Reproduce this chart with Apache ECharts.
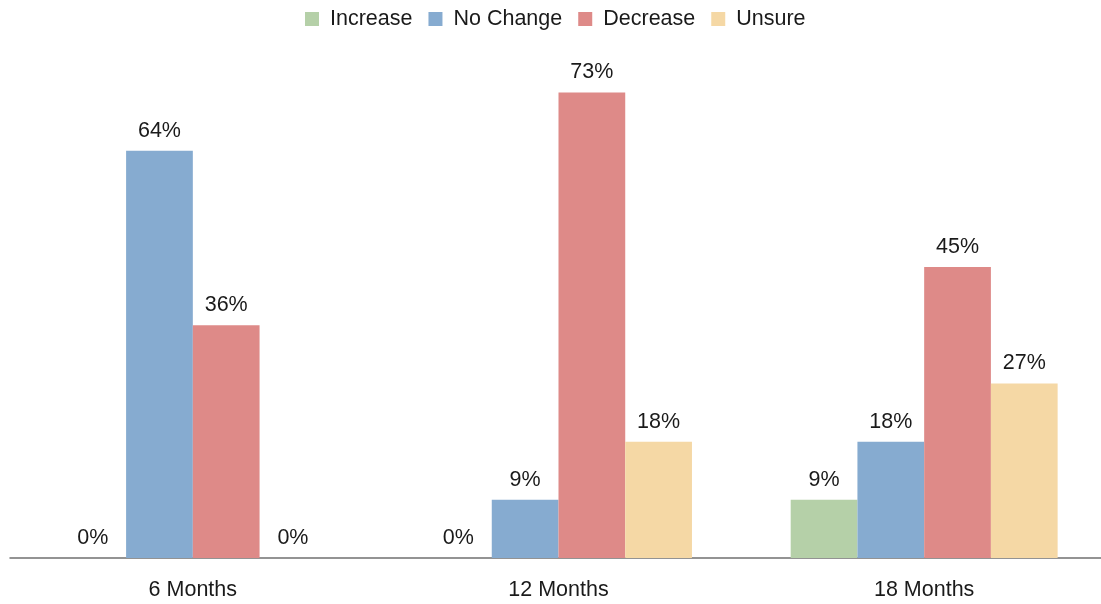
<!DOCTYPE html>
<html>
<head>
<meta charset="utf-8">
<script src="https://cdn.jsdelivr.net/npm/echarts@6/dist/echarts.min.js"></script>
<style>
  html, body { margin: 0; padding: 0; background: #fff; overflow: hidden; }
  /* the plot runs a few pixels past the right edge, so the canvas is a bit wider than the page */
  #chart { width: 1107px; height: 604px; }
</style>
</head>
<body>
<div id="chart"></div>
<script>
// Share of respondents (11 total) expecting each outcome, per horizon
const categories = ['6 Months', '12 Months', '18 Months'];
const increase = [0, 0, 9.09];
const noChange = [63.64, 9.09, 18.18];
const decrease = [36.36, 72.73, 45.45];
const unsure = [0, 18.18, 27.27];

const seriesNames = ['Increase', 'No Change', 'Decrease', 'Unsure'];
const seriesColors = ['#b5d0a8', '#86abd0', '#de8a88', '#f5d8a5'];
const seriesData = [increase, noChange, decrease, unsure];

const FONT = '"Liberation Sans", Arial, Helvetica, sans-serif';
const FS = 21.5;

const chart = echarts.init(document.getElementById('chart'), null, { renderer: 'canvas' });

chart.setOption({
  animation: false,
  backgroundColor: '#ffffff',
  textStyle: { fontFamily: FONT },
  legend: {
    top: 3,
    left: 300,
    itemWidth: 14,
    itemHeight: 14,
    itemGap: 16,
    icon: 'rect',
    textStyle: { fontSize: FS, color: '#1a1a1a', fontFamily: FONT, padding: [0, 0, 0, 6] },
    data: seriesNames
  },
  grid: { left: 10, right: 0, top: 46, bottom: 46, containLabel: false },
  xAxis: {
    type: 'category',
    data: categories,
    axisLine: { show: true, lineStyle: { color: '#707070', width: 1.5 } },
    axisTick: { show: false },
    axisLabel: { fontSize: FS, color: '#1a1a1a', margin: 21, fontFamily: FONT }
  },
  yAxis: {
    type: 'value',
    min: 0,
    max: 80,
    show: false,
    splitLine: { show: false }
  },
  series: seriesNames.map((name, i) => ({
    name: name,
    type: 'bar',
    data: seriesData[i],
    barGap: '0%',
    barCategoryGap: '27%',
    itemStyle: { color: seriesColors[i] },
    label: {
      show: true,
      position: 'top',
      distance: 9,
      fontSize: FS,
      color: '#1a1a1a',
      fontFamily: FONT,
      formatter: (p) => Math.round(p.value) + '%'
    }
  }))
});
</script>
</body>
</html>
